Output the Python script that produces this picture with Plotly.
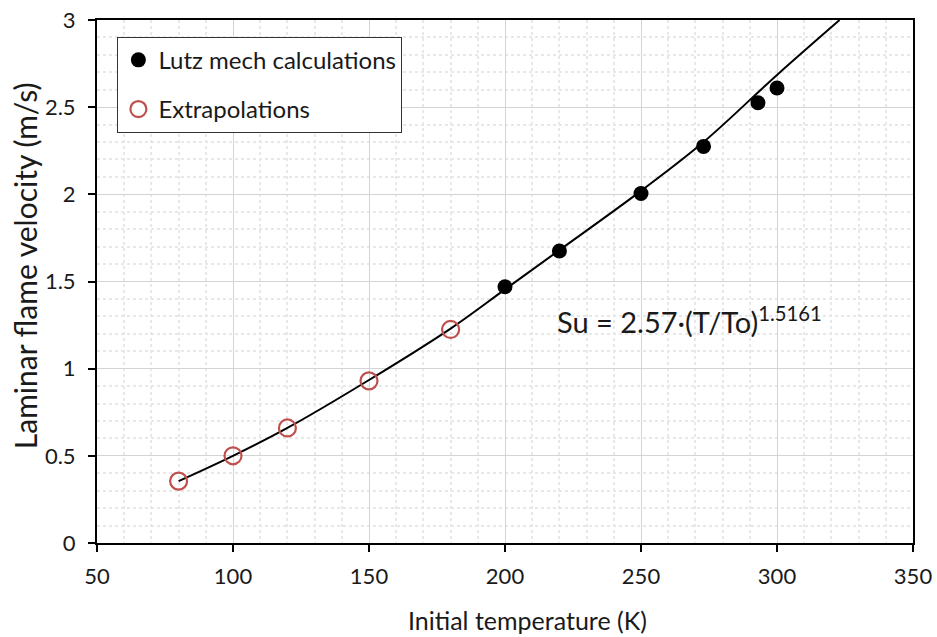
import plotly.graph_objects as go

# Data
lutz_T = [200, 220, 250, 273, 293, 300]
lutz_su = [1.47, 1.675, 2.005, 2.275, 2.525, 2.61]

extra_T = [80, 100, 120, 150, 180]
extra_su = [0.355, 0.50, 0.66, 0.93, 1.225]

# Trend line points
fit_T = [80, 100, 120, 150, 180, 200, 220, 250, 273, 300, 323]
fit_su = [0.355, 0.50, 0.66, 0.935, 1.23, 1.455, 1.68, 2.02, 2.30, 2.685, 3.0]

FONT = "Lato"
TXT = "#1a1a1a"

fig = go.Figure()

fig.add_trace(go.Scatter(
    x=fit_T, y=fit_su, mode="lines", line=dict(color="black", width=2, shape="spline"),
    showlegend=False, hoverinfo="skip"))

fig.add_trace(go.Scatter(
    x=lutz_T, y=lutz_su, mode="markers", name="Lutz mech calculations",
    marker=dict(color="black", size=15, line=dict(width=0)), legendgroup="a"))

fig.add_trace(go.Scatter(
    x=extra_T, y=extra_su, mode="markers", name="Extrapolations",
    marker=dict(color="rgba(0,0,0,0)", size=17, line=dict(color="#c0504d", width=2.2)),
    legendgroup="b"))

fig.add_annotation(
    x=218.5, y=1.28, xref="x", yref="y", xanchor="left", yanchor="middle",
    text="Su = 2.57·(T/To)<sup>1.5161</sup>", showarrow=False,
    font=dict(family=FONT, size=29, color=TXT))

# Axis titles (placed as annotations to match the reference placement)
fig.add_annotation(
    x=0.528, y=-0.147, xref="paper", yref="paper", xanchor="center", yanchor="middle",
    text="Initial temperature (K)", showarrow=False,
    font=dict(family=FONT, size=25, color=TXT))
fig.add_annotation(
    x=-0.089, y=0.53, xref="paper", yref="paper", xanchor="center", yanchor="middle",
    text="Laminar flame velocity (m/s)", showarrow=False, textangle=-90,
    font=dict(family=FONT, size=30, color=TXT))

axis_common = dict(
    showline=True, linecolor="black", linewidth=2, mirror=True,
    ticks="outside", tickcolor="black", tickwidth=2, ticklen=7,
    showgrid=True, gridcolor="#d4d4d4", gridwidth=1, zeroline=False,
    tickfont=dict(family=FONT, size=22, color=TXT), automargin=False,
)

fig.update_xaxes(
    range=[50, 350], dtick=50, tick0=50, ticklabelstandoff=6,
    minor=dict(dtick=10, showgrid=True, gridcolor="#e8e8e8", griddash="dot", gridwidth=1.5),
    **axis_common)
fig.update_yaxes(
    range=[0, 3], dtick=0.5, ticklabelstandoff=8,
    minor=dict(dtick=0.1, showgrid=True, gridcolor="#e8e8e8", griddash="dot", gridwidth=1.5),
    **axis_common)

fig.update_layout(
    width=937, height=637,
    margin=dict(l=97, r=24, t=20, b=94),
    paper_bgcolor="white", plot_bgcolor="white",
    font=dict(family=FONT),
    legend=dict(
        x=0.025, y=0.968, xanchor="left", yanchor="top",
        bgcolor="white", bordercolor="#333", borderwidth=1,
        font=dict(family=FONT, size=24, color=TXT),
        traceorder="grouped", tracegroupgap=15, itemwidth=30,
    ),
)

fig.write_html("out.html")
